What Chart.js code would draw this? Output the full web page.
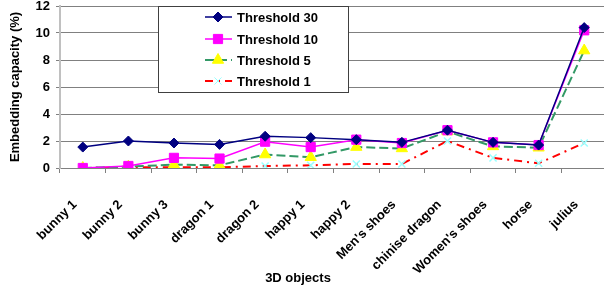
<!DOCTYPE html>
<html>
<head>
<meta charset="utf-8">
<script src="https://cdn.jsdelivr.net/npm/chart.js@4"></script>
<style>
  body { margin: 0; overflow: hidden; background: #fff; }
  canvas { display: block; }
</style>
</head>
<body>
<canvas id="chart" width="607" height="289" style="width:607px;height:289px"></canvas>
<script>
// data
var objects = ["bunny 1", "bunny 2", "bunny 3", "dragon 1", "dragon 2", "happy 1", "happy 2",
               "Men's shoes", "chinise dragon", "Women's shoes", "horse", "julius"];
var threshold_30 = [1.55, 2.0, 1.85, 1.75, 2.35, 2.25, 2.1, 1.9, 2.8, 1.9, 1.7, 10.4];
var threshold_10 = [0.0, 0.15, 0.75, 0.7, 1.95, 1.55, 2.1, 1.85, 2.8, 1.9, 1.7, 10.2];
var threshold_5 = [0.0, 0.1, 0.25, 0.2, 1.0, 0.8, 1.55, 1.45, 2.7, 1.6, 1.5, 8.7];
var threshold_1 = [0.0, 0.05, 0.05, 0.05, 0.15, 0.2, 0.3, 0.3, 2.0, 0.75, 0.35, 1.85];
var y_ticks = [0, 2, 4, 6, 8, 10, 12];

var font_name = "'Liberation Sans', Arial, sans-serif";

// legend box sits inside the plot, drawn by hand
var legendBox = {
    id: "legendBox",
    afterDraw: function(chart) {
        var ctx = chart.ctx;
        ctx.save();
        ctx.fillStyle = "#fff";
        ctx.fillRect(158, 6, 190, 86);
        ctx.strokeStyle = "#404040";
        ctx.lineWidth = 1;
        ctx.strokeRect(158.5, 6.5, 190, 86);
        var rows = [17, 39, 60, 81];
        chart.data.datasets.forEach(function(ds, i) {
            var y = rows[i];
            ctx.save();
            ctx.strokeStyle = ds.borderColor;
            ctx.lineWidth = ds.borderWidth;
            ctx.setLineDash(ds.borderDash || []);
            ctx.beginPath();
            ctx.moveTo(205, y);
            ctx.lineTo(232, y);
            ctx.stroke();
            ctx.restore();
            ctx.save();
            ctx.fillStyle = ds.pointBackgroundColor;
            ctx.strokeStyle = ds.pointBorderColor;
            Chart.helpers.drawPoint(ctx, {
                pointStyle: ds.pointStyle,
                radius: ds.pointRadius,
                rotation: 0,
                borderWidth: ds.pointBorderWidth
            }, 218, y);
            ctx.restore();
            ctx.fillStyle = "#000";
            ctx.font = "bold 13px " + font_name;
            ctx.textBaseline = "middle";
            ctx.textAlign = "left";
            ctx.fillText(ds.label, 237, y + 1);
        });
        // x axis title
        ctx.font = "bold 13px " + font_name;
        ctx.textAlign = "center";
        ctx.textBaseline = "middle";
        ctx.fillStyle = "#000";
        ctx.fillText("3D objects", 298, 278);
        ctx.restore();
    }
};

var chart = new Chart(document.getElementById("chart"), {
    type: "line",
    data: {
        labels: objects,
        datasets: [
            {
                label: "Threshold 30",
                data: threshold_30,
                borderColor: "#000080",
                borderWidth: 1.5,
                pointStyle: "rectRot",
                pointRadius: 5,
                pointBackgroundColor: "#000080",
                pointBorderColor: "#000080",
                pointBorderWidth: 1
            },
            {
                label: "Threshold 10",
                data: threshold_10,
                borderColor: "#ff00ff",
                borderWidth: 1.5,
                pointStyle: "rect",
                pointRadius: 6.5,
                pointBackgroundColor: "#ff00ff",
                pointBorderColor: "#ff00ff",
                pointBorderWidth: 1
            },
            {
                label: "Threshold 5",
                data: threshold_5,
                borderColor: "#339966",
                borderWidth: 2,
                borderDash: [9, 4],
                pointStyle: "triangle",
                pointRadius: 6.5,
                pointBackgroundColor: "#ffff00",
                pointBorderColor: "#ffff00",
                pointBorderWidth: 1
            },
            {
                label: "Threshold 1",
                data: threshold_1,
                borderColor: "#ff0000",
                borderWidth: 2,
                borderDash: [8, 5, 2, 5],
                pointStyle: "crossRot",
                pointRadius: 5,
                pointBackgroundColor: "#99ffff",
                pointBorderColor: "#99ffff",
                pointBorderWidth: 1.5
            }
        ]
    },
    options: {
        responsive: false,
        animation: false,
        layout: { padding: 0, autoPadding: false },
        plugins: {
            legend: { display: false },
            tooltip: { enabled: false }
        },
        scales: {
            x: {
                type: "category",
                offset: true,
                afterFit: function(scale) {
                    scale.height = 121;
                    scale.paddingLeft = 0;
                    scale.paddingRight = 0;
                },
                grid: {
                    offset: true,
                    drawOnChartArea: false,
                    drawTicks: true,
                    tickLength: 5,
                    tickColor: "#808080"
                },
                border: { color: "#808080", width: 1 },
                ticks: {
                    autoSkip: false,
                    minRotation: 45,
                    maxRotation: 45,
                    padding: 24,
                    labelOffset: -8,
                    color: "#000",
                    font: { family: font_name, size: 13, weight: "bold" }
                }
            },
            y: {
                min: 0,
                max: 12,
                afterFit: function(scale) {
                    scale.width = 60;
                    scale.paddingTop = 6;
                    scale.paddingBottom = 0;
                },
                afterBuildTicks: function(scale) {
                    scale.ticks = y_ticks.map(function(v) { return { value: v }; });
                },
                grid: {
                    color: "#808080",
                    lineWidth: 1,
                    tickLength: 4,
                    tickColor: "#808080"
                },
                border: { color: "#c0c0c0", width: 2 },
                ticks: {
                    padding: 6,
                    color: "#000",
                    font: { family: font_name, size: 13, weight: "bold" }
                },
                title: {
                    display: true,
                    text: "Embedding capacity (%)",
                    color: "#000",
                    padding: { top: 8, bottom: 0 },
                    font: { family: font_name, size: 13, weight: "bold" }
                }
            }
        }
    },
    plugins: [legendBox]
});
</script>
</body>
</html>
